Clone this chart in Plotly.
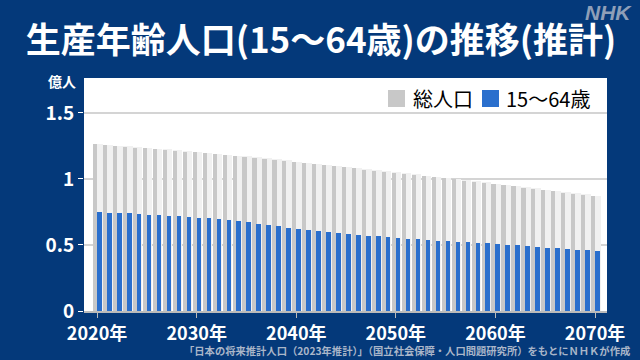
import plotly.graph_objects as go

years = list(range(2020, 2071))
total = [1.2615, 1.2550, 1.2495, 1.2441, 1.2384, 1.2326, 1.2265, 1.2203, 1.2139, 1.2074,
         1.2012, 1.1943, 1.1874, 1.1804, 1.1734, 1.1664, 1.1590, 1.1515, 1.1439, 1.1362,
         1.1284, 1.1204, 1.1124, 1.1043, 1.0962, 1.0880, 1.0798, 1.0716, 1.0634, 1.0551,
         1.0469, 1.0386, 1.0302, 1.0219, 1.0135, 1.0051, 0.9964, 0.9877, 0.9790, 0.9702,
         0.9615, 0.9524, 0.9433, 0.9341, 0.9250, 0.9159, 0.9067, 0.8975, 0.8883, 0.8791,
         0.8700]
working = [0.7509, 0.7450, 0.7421, 0.7395, 0.7357, 0.7310, 0.7262, 0.7215, 0.7162, 0.7117,
           0.7076, 0.7018, 0.6955, 0.6886, 0.6806, 0.6722, 0.6624, 0.6521, 0.6417, 0.6314,
           0.6213, 0.6128, 0.6049, 0.5973, 0.5901, 0.5832, 0.5769, 0.5710, 0.5653, 0.5596,
           0.5540, 0.5489, 0.5438, 0.5389, 0.5340, 0.5291, 0.5248, 0.5206, 0.5163, 0.5121,
           0.5078, 0.5025, 0.4971, 0.4917, 0.4863, 0.4809, 0.4755, 0.4700, 0.4645, 0.4590,
           0.4535]
series_names = ["総人口", "15～64歳"]
x_tick_vals = [2020, 2030, 2040, 2050, 2060, 2070]
x_tick_text = ["2020年", "2030年", "2040年", "2050年", "2060年", "2070年"]
y_tick_vals = [0, 0.5, 1, 1.5]
y_tick_text = ["0", "0.5", "1", "1.5"]

FONT = "Noto Sans CJK JP"
BG = "#04397a"
GRAY = "#c8c8c8"
BLUE = "#2a6fcd"

fig = go.Figure()
fig.add_trace(go.Bar(x=years, y=[v + 0.004 for v in total], width=0.96, offset=-0.40,
                     marker=dict(color="#f1f1f1", line=dict(width=0)),
                     showlegend=False, hoverinfo="skip"))
fig.add_trace(go.Bar(x=years, y=total, name=series_names[0], width=0.42, offset=-0.40,
                     marker=dict(color=GRAY, line=dict(width=0)), showlegend=False))
fig.add_trace(go.Bar(x=years, y=working, name=series_names[1], width=0.46, offset=0.0,
                     marker=dict(color=BLUE, line=dict(width=0)), showlegend=False))

L, R, T, B = 84, 607, 78, 311
W, H = 640, 360

def px(xp):
    return (xp - L) / (R - L)

def py(yp):
    return (B - yp) / (B - T)

# legend (drawn manually so spacing matches)
shapes = [
    dict(type="rect", xref="paper", yref="paper", x0=px(388), x1=px(405), y0=py(107), y1=py(90),
         fillcolor=GRAY, line=dict(width=0)),
    dict(type="rect", xref="paper", yref="paper", x0=px(482), x1=px(499), y0=py(107), y1=py(90),
         fillcolor=BLUE, line=dict(width=0)),
]

fig.update_layout(
    width=W, height=H,
    margin=dict(l=L, r=W - R, t=T, b=H - B),
    paper_bgcolor=BG, plot_bgcolor="white",
    barmode="overlay", bargap=0,
    showlegend=False,
    font=dict(family=FONT, color="white"),
    title=dict(text="<b>生産年齢人口(15～64歳)の推移(推計)</b>",
               x=(321) / W, xanchor="center", y=1 - 41 / H, yanchor="middle",
               font=dict(size=35, color="white", family=FONT)),
    xaxis=dict(range=[2018.69, 2071.2], tickvals=x_tick_vals,
               ticktext=["<b>" + t + "</b>" for t in x_tick_text],
               ticks="outside", ticklen=5, tickcolor="#bbbbbb", tickwidth=1,
               showgrid=False, zeroline=False, showline=True, linecolor="#bbbbbb",
               linewidth=2, tickfont=dict(size=18, color="white", family=FONT),
               fixedrange=True),
    yaxis=dict(range=[0, 1.765], tickvals=y_tick_vals,
               ticktext=["<b>" + t + "</b>" for t in y_tick_text],
               ticks="outside", ticklen=5, tickcolor="white", tickwidth=1,
               showgrid=True, gridcolor="#d4d4d4", gridwidth=1.5, zeroline=False,
               tickfont=dict(size=19, color="white", family=FONT), fixedrange=True),
    shapes=shapes,
    annotations=[
        dict(text=series_names[0], x=px(411), y=py(98.5), xref="paper", yref="paper",
             showarrow=False, xanchor="left", yanchor="middle",
             font=dict(size=20, color="black", family=FONT)),
        dict(text=series_names[1], x=px(504), y=py(98.5), xref="paper", yref="paper",
             showarrow=False, xanchor="left", yanchor="middle",
             font=dict(size=20, color="black", family=FONT)),
        dict(text="<b>億人</b>", x=px(62), y=py(81), xref="paper", yref="paper",
             showarrow=False, xanchor="center", yanchor="middle",
             font=dict(size=14, color="white", family=FONT)),
        dict(text="<b><i>NHK</i></b>", x=px(634), y=py(12), xref="paper", yref="paper",
             showarrow=False, xanchor="right", yanchor="middle",
             font=dict(size=21, color="#8e9fb8", family="Liberation Sans")),
        dict(text="<b>「日本の将来推計人口（2023年推計）」（国立社会保障・人口問題研究所）をもとにＮＨＫが作成</b>",
             x=px(632), y=py(350), xref="paper", yref="paper",
             showarrow=False, xanchor="right", yanchor="middle",
             font=dict(size=10.3, color="#aab6c9", family=FONT)),
    ],
)

fig.write_html("out.html", config={"displayModeBar": False},
               post_script="document.body.style.margin='0';document.body.style.overflow='hidden';")
